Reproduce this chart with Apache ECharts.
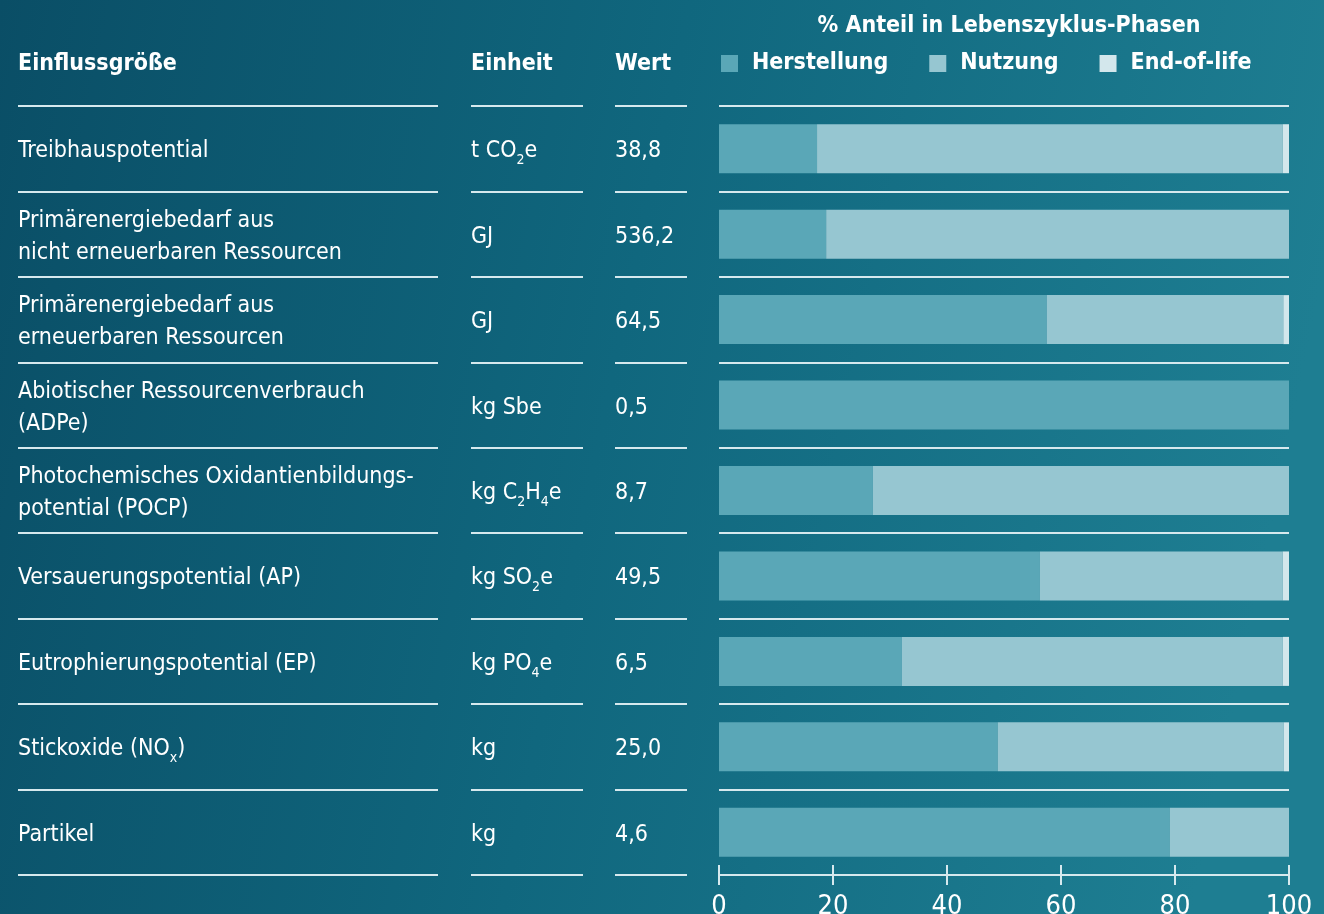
<!DOCTYPE html>
<html>
<head>
<meta charset="utf-8">
<title>Lebenszyklus-Phasen</title>
<script src="https://cdn.jsdelivr.net/npm/echarts@6/dist/echarts.min.js"></script>
<style>
  html, body { margin: 0; padding: 0; }
  #main { width: 1324px; height: 914px; }
</style>
</head>
<body>
<div id="main"></div>
<script>
// Einflussgrößen (Zeilen), {s|..} = tiefgestellt
var names = [
  'Treibhauspotential',
  'Primärenergiebedarf aus\nnicht erneuerbaren Ressourcen',
  'Primärenergiebedarf aus\nerneuerbaren Ressourcen',
  'Abiotischer Ressourcenverbrauch\n(ADPe)',
  'Photochemisches Oxidantienbildungs-\npotential (POCP)',
  'Versauerungspotential (AP)',
  'Eutrophierungspotential (EP)',
  'Stickoxide (NO{s|x})',
  'Partikel'
]
var units = ['t CO{s|2}e', 'GJ', 'GJ', 'kg Sbe', 'kg C{s|2}H{s|4}e', 'kg SO{s|2}e', 'kg PO{s|4}e', 'kg', 'kg']
var values = ['38,8', '536,2', '64,5', '0,5', '8,7', '49,5', '6,5', '25,0', '4,6']

// % Anteil je Phase
var phases = ['Herstellung', 'Nutzung', 'End-of-life']
var herstellung = [17.2, 18.8, 57.5, 100, 27.0, 56.3, 32.1, 48.9, 79.1]
var nutzung = [81.7, 81.2, 41.5, 0, 73.0, 42.6, 66.8, 50.2, 20.9]
var endOfLife = [1.1, 0, 1.0, 0, 0, 1.1, 1.1, 0.9, 0]
var xTicks = [0, 20, 40, 60, 80, 100]

var rowKeys = names.map(function (n, i) { return 'r' + i })

var FONT = '"DejaVu Sans Condensed", "Liberation Sans Narrow", "Roboto", sans-serif'
var LINE = '#d6e9ee'
var colors = ['#5aa7b7', '#96c6d1', '#d3e7ec']

var richText = {
  s: { fontSize: 14, color: '#fff', fontFamily: FONT, verticalAlign: 'bottom', lineHeight: 13 }
}

// Spalten: Einflussgröße, Einheit, Wert, Balken
var columns = [
  { left: 18, width: 420, labels: names },
  { left: 471, width: 112, labels: units },
  { left: 615, width: 72, labels: values },
  { left: 719, width: 570, labels: null }
]

var grids = [], xAxes = [], yAxes = []
columns.forEach(function (col, i) {
  grids.push({
    left: col.left, width: col.width, top: 106, bottom: 39,
    containLabel: false, outerBoundsMode: 'none'
  })
  xAxes.push({
    gridIndex: i, type: 'value', min: 0, max: 100, interval: 20,
    show: i === 3,
    axisLine: { show: true, lineStyle: { color: LINE, width: 2 } },
    axisTick: { show: true, length: 10, lineStyle: { color: LINE, width: 2 } },
    splitLine: { show: false },
    axisLabel: {
      color: '#fff', fontFamily: FONT, fontSize: 27, margin: 18,
      formatter: function (v) { return xTicks.indexOf(v) >= 0 ? String(v) : '' }
    }
  })
  yAxes.push({
    gridIndex: i, type: 'category', inverse: true, data: rowKeys,
    axisLine: { show: false },
    axisTick: { show: false },
    splitLine: { show: true, lineStyle: { color: LINE, width: 2 } },
    axisLabel: {
      show: !!col.labels, inside: true, margin: 0, align: 'left',
      color: '#fff', fontFamily: FONT, fontSize: 23, lineHeight: 32,
      padding: [5, 0, 0, 0],
      rich: richText,
      formatter: function (v, idx) { return col.labels ? col.labels[idx] : '' }
    }
  })
})
// Striche nach innen auf der Prozentachse
xAxes.push({
  gridIndex: 3, type: 'value', min: 0, max: 100, interval: 20, position: 'bottom',
  axisLine: { show: false },
  axisTick: { show: true, inside: true, length: 10, lineStyle: { color: LINE, width: 2 } },
  axisLabel: { show: false },
  splitLine: { show: false }
})

var phaseData = [herstellung, nutzung, endOfLife]
var series = phases.map(function (p, i) {
  return {
    name: p, type: 'bar', stack: 'total', xAxisIndex: 3, yAxisIndex: 3,
    barWidth: 49, itemStyle: { color: colors[i] },
    data: phaseData[i]
  }
})

var headStyle = { color: '#fff', fontFamily: FONT, fontSize: 23, fontWeight: 'bold' }

var option = {
  backgroundColor: {
    type: 'linear', x: 0, y: 0, x2: 1, y2: 0.3,
    colorStops: [
      { offset: 0, color: '#0a4e66' },
      { offset: 0.5, color: '#10677e' },
      { offset: 1, color: '#1e7e92' }
    ]
  },
  animation: false,
  title: [
    { text: 'Einflussgröße', left: 13, top: 48, textStyle: headStyle },
    { text: 'Einheit', left: 466, top: 48, textStyle: headStyle },
    { text: 'Wert', left: 610, top: 48, textStyle: headStyle },
    { text: '% Anteil in Lebenszyklus-Phasen', left: 1004, textAlign: 'center', top: 10, textStyle: headStyle }
  ],
  legend: {
    data: phases, left: 716, top: 47, icon: 'rect',
    itemWidth: 17, itemHeight: 17, itemGap: 41,
    textStyle: { color: '#fff', fontFamily: FONT, fontSize: 23, fontWeight: 'bold', padding: [0, 0, 0, 9] }
  },
  grid: grids,
  xAxis: xAxes,
  yAxis: yAxes,
  series: series
}

var myChart = echarts.init(document.getElementById('main'))
myChart.setOption(option)
</script>
</body>
</html>
